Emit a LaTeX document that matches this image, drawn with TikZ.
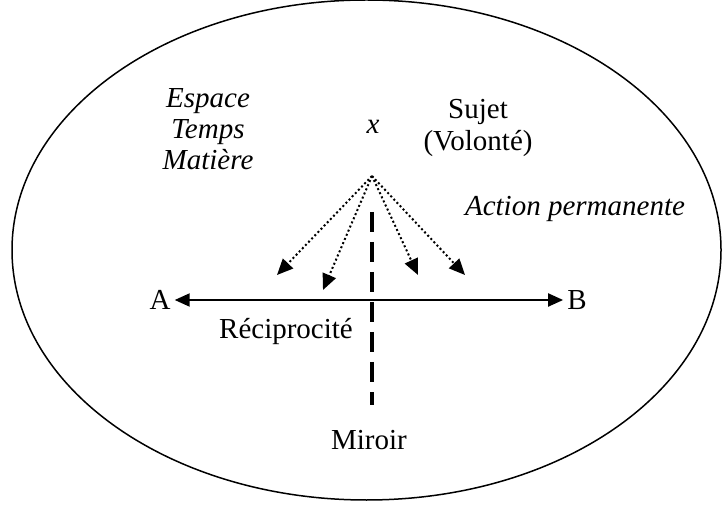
\documentclass[tikz,border=0pt]{standalone}
\usepackage{fontspec}
\setmainfont{Liberation Serif}
\usetikzlibrary{arrows.meta}
\begin{document}
\begin{tikzpicture}[x=1pt,y=1pt,
  txt/.style={inner sep=0pt,font=\fontsize{29}{31}\selectfont,align=center},
  itxt/.style={txt,font=\fontsize{29}{31}\selectfont\itshape},
  dotarrow/.style={line width=2pt,dash pattern=on 2pt off 2.5pt,-{Triangle[length=16pt,width=14pt]}},
  mainarrow/.style={line width=2pt,{Triangle[length=15pt,width=13pt]}-{Triangle[length=15pt,width=13pt]}},
  mirror/.style={line width=4pt,dash pattern=on 20pt off 10pt}]
\useasboundingbox (0,0) rectangle (722,514);
\draw[line width=1.5pt] (366.5,264) ellipse [x radius=354.5, y radius=250];
\node[itxt] (etm) at (208,385) {Espace\\Temps\\Mati\`ere};
\node[itxt] (x) at (373,387) {x};
\node[txt] (sujet) at (478,386) {Sujet\\[1pt](Volont\'e)};
\node[itxt] (action) at (575,305) {Action permanente};
\node[txt] (A) at (160,214) {A};
\node[txt] (B) at (577,214) {B};
\node[txt] (recip) at (286,182) {R\'eciprocit\'e};
\node[txt] (miroir) at (369,74) {Miroir};
\coordinate (apex) at (372,338);
\coordinate (t1) at (277,239);
\coordinate (t2) at (323,224);
\coordinate (t3) at (418,239);
\coordinate (t4) at (465,239);
\coordinate (mtop) at (372,302);
\coordinate (mbot) at (372,109);
\draw[mirror] (mtop) -- (mbot);
\draw[mainarrow] ([xshift=4pt]A.east) -- ([xshift=-4pt]B.west);
\foreach \t in {t1,t2,t3,t4} \draw[dotarrow] (apex) -- (\t);
\end{tikzpicture}
\end{document}
